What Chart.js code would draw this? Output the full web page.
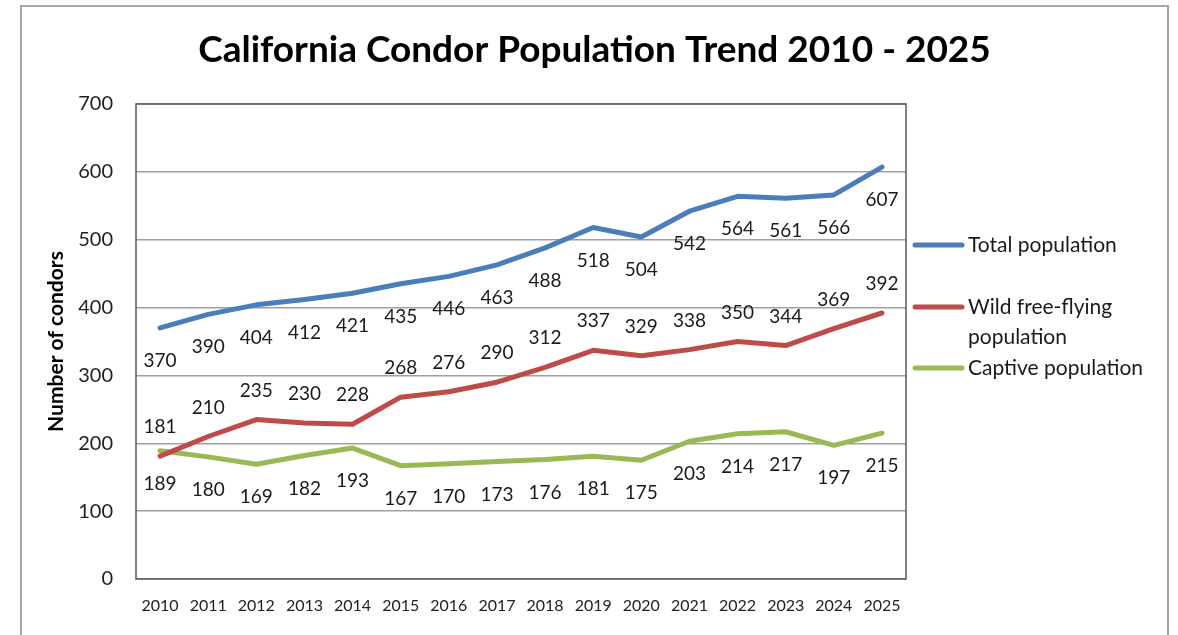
<!DOCTYPE html>
<html>
<head>
<meta charset="utf-8">
<script src="https://cdn.jsdelivr.net/npm/chart.js@4.4.1/dist/chart.umd.min.js"></script>
<style>
  html, body { margin: 0; padding: 0; background: #ffffff; }
  #wrap { position: relative; width: 1178px; height: 635px; }
</style>
</head>
<body>
<div id="wrap"><canvas id="c" width="1178" height="635"></canvas></div>
<script>
const years = ['2010','2011','2012','2013','2014','2015','2016','2017','2018','2019','2020','2021','2022','2023','2024','2025'];
const totalPopulation = [370, 390, 404, 412, 421, 435, 446, 463, 488, 518, 504, 542, 564, 561, 566, 607];
const wildPopulation  = [181, 210, 235, 230, 228, 268, 276, 290, 312, 337, 329, 338, 350, 344, 369, 392];
const captivePopulation = [189, 180, 169, 182, 193, 167, 170, 173, 176, 181, 175, 203, 214, 217, 197, 215];
const yTicks = [0, 100, 200, 300, 400, 500, 600, 700];
const seriesNames = ['Total population', 'Wild free-flying population', 'Captive population'];
const legendLines = [['Total population'], ['Wild free-flying', 'population'], ['Captive population']];

const FONT = 'Lato, "Open Sans", sans-serif';

const framePlugin = {
  id: 'frame',
  beforeDraw(chart) {
    const ctx = chart.ctx;
    ctx.save();
    ctx.fillStyle = '#ffffff';
    ctx.fillRect(0, 0, chart.width, chart.height);
    ctx.strokeStyle = '#a6a6a6';
    ctx.lineWidth = 2;
    ctx.strokeRect(21, 6, 1147, 650);
    ctx.restore();
  },
  beforeDatasetsDraw(chart) {
    const a = chart.chartArea, ctx = chart.ctx;
    ctx.save();
    ctx.strokeStyle = '#5a5a5a';
    ctx.lineWidth = 1.5;
    ctx.strokeRect(a.left, a.top, a.right - a.left, a.bottom - a.top);
    ctx.restore();
  }
};

const labelPlugin = {
  id: 'pointLabels',
  afterDatasetsDraw(chart) {
    const ctx = chart.ctx;
    ctx.save();
    ctx.font = '19px ' + FONT;
    ctx.fillStyle = '#1a1a1a';
    ctx.textAlign = 'center';
    ctx.textBaseline = 'middle';
    chart.data.datasets.forEach((ds, i) => {
      const meta = chart.getDatasetMeta(i);
      meta.data.forEach((pt, j) => {
        ctx.fillText(String(ds.data[j]), pt.x, pt.y + ds.labelOffset);
      });
    });
    ctx.restore();
  }
};

const legendPlugin = {
  id: 'sideLegend',
  afterDraw(chart) {
    const ctx = chart.ctx;
    const a = chart.chartArea;
    const rows = [245, 307, 368];
    ctx.save();
    ctx.font = '21px ' + FONT;
    ctx.textAlign = 'left';
    ctx.textBaseline = 'middle';
    chart.data.datasets.forEach((ds, i) => {
      const y = rows[i];
      ctx.strokeStyle = ds.borderColor;
      ctx.lineWidth = 5;
      ctx.lineCap = 'round';
      ctx.beginPath();
      ctx.moveTo(a.right + 9, y);
      ctx.lineTo(a.right + 56, y);
      ctx.stroke();
      ctx.fillStyle = '#1a1a1a';
      legendLines[i].forEach((t, k) => ctx.fillText(t, a.right + 62, y + k * 30));
    });
    ctx.restore();
  }
};

new Chart(document.getElementById('c'), {
  type: 'line',
  data: {
    labels: years,
    datasets: [
      { label: seriesNames[0], data: totalPopulation, borderColor: '#4A7EBB', backgroundColor: '#4A7EBB', labelOffset: 33 },
      { label: seriesNames[1], data: wildPopulation, borderColor: '#BE4B48', backgroundColor: '#BE4B48', labelOffset: -29 },
      { label: seriesNames[2], data: captivePopulation, borderColor: '#98B954', backgroundColor: '#98B954', labelOffset: 33 }
    ]
  },
  options: {
    responsive: false,
    animation: false,
    devicePixelRatio: 1,
    layout: { padding: { left: 21, right: 10, top: 6, bottom: 0 } },
    elements: {
      line: { borderWidth: 5, tension: 0, borderCapStyle: 'round', borderJoinStyle: 'round' },
      point: { radius: 0, hoverRadius: 0 }
    },
    plugins: {
      legend: { display: false },
      tooltip: { enabled: false },
      title: {
        display: true,
        text: 'California Condor Population Trend 2010 - 2025',
        color: '#000000',
        font: { family: FONT, size: 37, weight: 'bold', lineHeight: 1.2 },
        padding: { top: 22, bottom: 31.6 }
      }
    },
    scales: {
      x: {
        offset: true,
        grid: { display: false, drawTicks: false },
        border: { display: false },
        ticks: { color: '#222', font: { family: FONT, size: 16 }, padding: 17, maxRotation: 0, autoSkip: false },
        afterFit(scale) { scale.height = 56; }
      },
      y: {
        min: 0, max: 700,
        afterBuildTicks(scale) { scale.ticks = yTicks.map(v => ({ value: v })); },
        grid: { color: '#a0a0a0', lineWidth: 1.5, drawTicks: false },
        border: { display: false },
        ticks: { color: '#222', font: { family: FONT, size: 20 }, padding: 23 },
        title: {
          display: true,
          text: 'Number of condors',
          color: '#000000',
          font: { family: FONT, size: 21, weight: 'bold' },
          padding: { top: 23, bottom: 0 }
        },
        afterFit(scale) { scale.width = 115; }
      },
      legendSpace: {
        type: 'linear',
        position: 'right',
        display: true,
        grid: { display: false, drawTicks: false },
        border: { display: false },
        ticks: { display: false },
        afterFit(scale) { scale.width = 262; }
      }
    }
  },
  plugins: [framePlugin, labelPlugin, legendPlugin]
});
</script>
</body>
</html>
